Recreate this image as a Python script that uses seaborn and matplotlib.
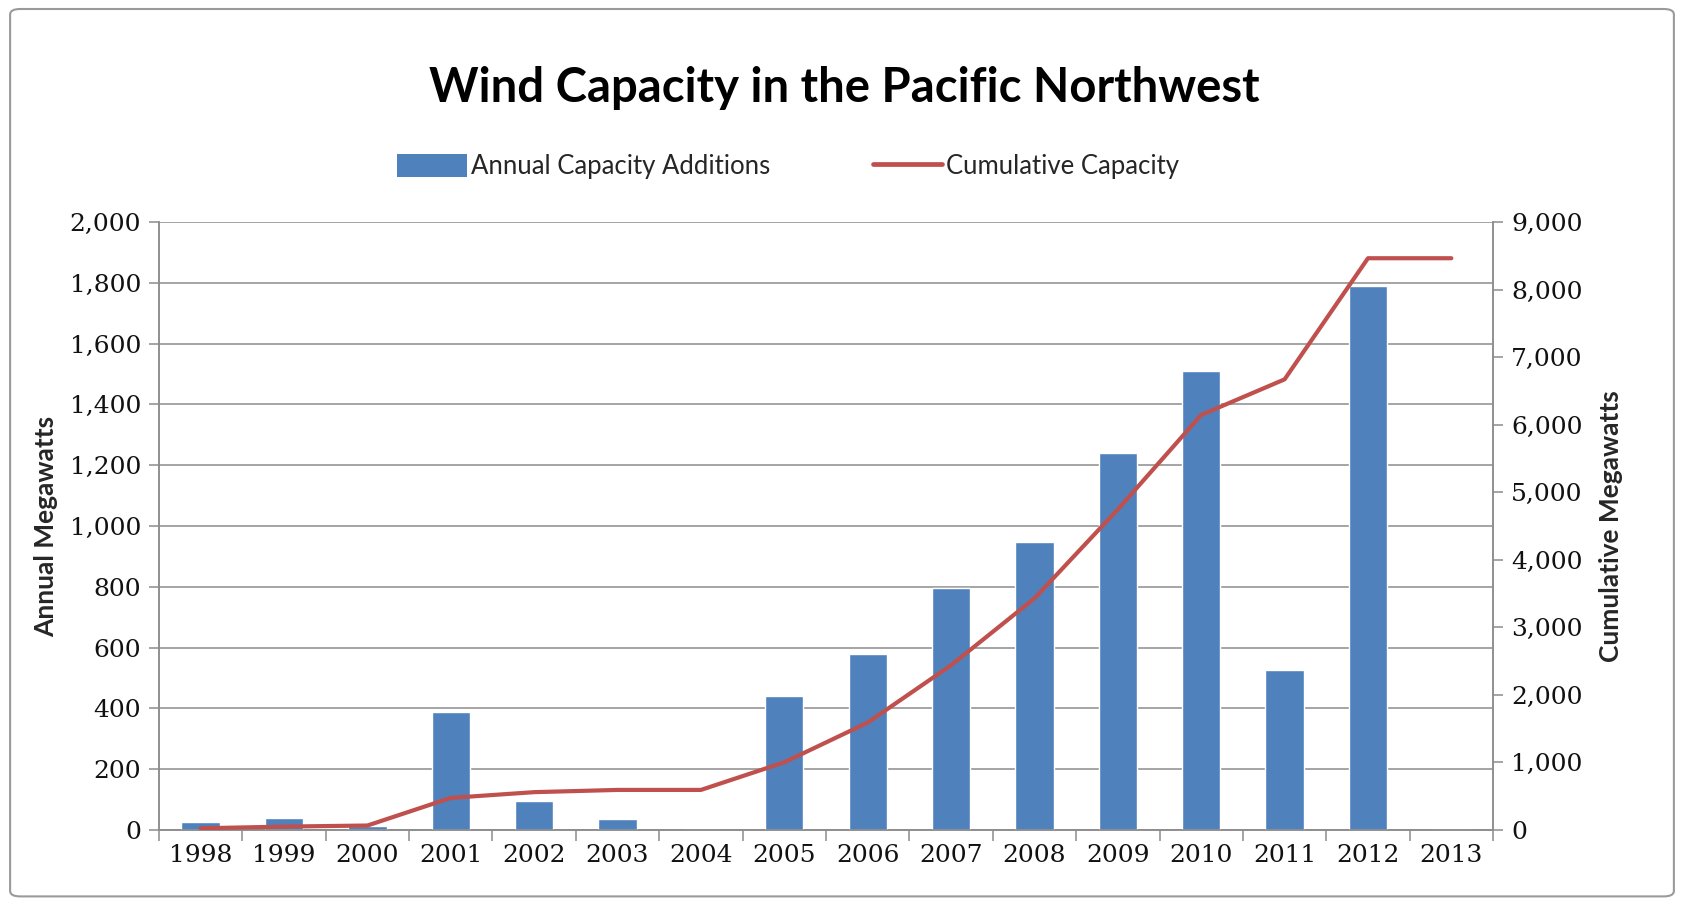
import matplotlib
matplotlib.use("Agg")
import matplotlib.pyplot as plt
from matplotlib.patches import Patch, FancyBboxPatch
from matplotlib.lines import Line2D
from matplotlib.ticker import FuncFormatter, MultipleLocator, FixedLocator
import seaborn as sns
import pandas as pd
import numpy as np

years = ["1998", "1999", "2000", "2001", "2002", "2003", "2004", "2005",
         "2006", "2007", "2008", "2009", "2010", "2011", "2012", "2013"]
annual_mw = [25, 41, 13, 388, 94, 35, 0, 440, 579, 797, 949, 1240, 1509, 527, 1790, 0]
cumulative_mw = [25, 50, 66, 475, 560, 593, 593, 1002, 1590, 2439, 3428, 4746,
                 6144, 6671, 8464, 8464]

bar_color = "#4F81BD"
line_color = "#C0504D"
grid_color = "#8C8C8C"

df = pd.DataFrame({"year": years, "annual": annual_mw, "cumulative": cumulative_mw})
df["pos"] = np.arange(len(df))

sns.set_theme(style="white")
plt.rcParams["font.family"] = ["Lato", "DejaVu Sans"]

fig = plt.figure(figsize=(16.84, 9.0), dpi=100)
ax = fig.add_axes([0.0944, 0.0778, 0.7922, 0.6755])

sns.barplot(data=df, x="year", y="annual", color=bar_color, width=0.46,
            saturation=1, ax=ax, zorder=3)
ax.set_ylim(0, 2000)
ax.set_xlim(-0.5, len(years) - 0.5)
ax.yaxis.set_major_locator(MultipleLocator(200))
ax.yaxis.set_major_formatter(FuncFormatter(lambda v, p: f"{int(v):,}"))
ax.grid(axis="y", color=grid_color, linewidth=1.1, zorder=0)
ax.set_axisbelow(True)
ax.set_xlabel("")
ax.set_ylabel("Annual Megawatts", fontsize=19, fontweight="bold", labelpad=8)

ax2 = ax.twinx()
sns.lineplot(data=df, x="pos", y="cumulative", color=line_color, linewidth=3.0,
             ax=ax2, zorder=4)
ax2.set_ylim(0, 9000)
ax2.set_xlim(-0.5, len(years) - 0.5)
ax2.yaxis.set_major_locator(MultipleLocator(1000))
ax2.yaxis.set_major_formatter(FuncFormatter(lambda v, p: f"{int(v):,}"))
ax2.set_xlabel("")
ax2.set_ylabel("Cumulative Megawatts", fontsize=19, fontweight="bold", labelpad=12)
ax2.grid(False)

tick_font = dict(family="DejaVu Serif", size=18)
for a in (ax, ax2):
    for lab in a.get_yticklabels():
        lab.set_fontfamily(tick_font["family"])
        lab.set_fontsize(tick_font["size"])
        lab.set_color("#111111")
    a.spines["top"].set_visible(False)
    for side in ("left", "right", "bottom"):
        a.spines[side].set_color(grid_color)
        a.spines[side].set_linewidth(1.1)
    a.tick_params(axis="y", length=7, width=1.1, color=grid_color, direction="out", pad=6)

for lab in ax.get_xticklabels():
    lab.set_fontfamily(tick_font["family"])
    lab.set_fontsize(tick_font["size"])
    lab.set_color("#111111")
ax.tick_params(axis="x", which="major", length=0, pad=10)
ax.xaxis.set_minor_locator(FixedLocator(np.arange(-0.5, len(years), 1.0)))
ax.tick_params(axis="x", which="minor", length=8, width=1.1, color=grid_color,
               direction="out", bottom=True)
ax.tick_params(axis="y", left=True)
ax2.tick_params(axis="y", right=True)

fig.text(0.5015, 0.902, "Wind Capacity in the Pacific Northwest", ha="center",
         va="center", fontsize=34, fontweight="bold", color="black")

handles = [Patch(facecolor=bar_color, edgecolor="none"),
           Line2D([0], [0], color=line_color, linewidth=3.4)]
fig.legend(handles, ["Annual Capacity Additions", "Cumulative Capacity"],
           loc="center", bbox_to_anchor=(0.468, 0.815), ncol=2, frameon=False,
           fontsize=18.5, handlelength=2.7, handleheight=1.0, columnspacing=4.0,
           handletextpad=0.15)

border = FancyBboxPatch((0.006, 0.004), 0.988, 0.986, boxstyle="round,pad=0,rounding_size=0.006",
                        transform=fig.transFigure, facecolor="none",
                        edgecolor="#9a9a9a", linewidth=1.5)
fig.patches.append(border)

fig.savefig("out.png", dpi=100)
